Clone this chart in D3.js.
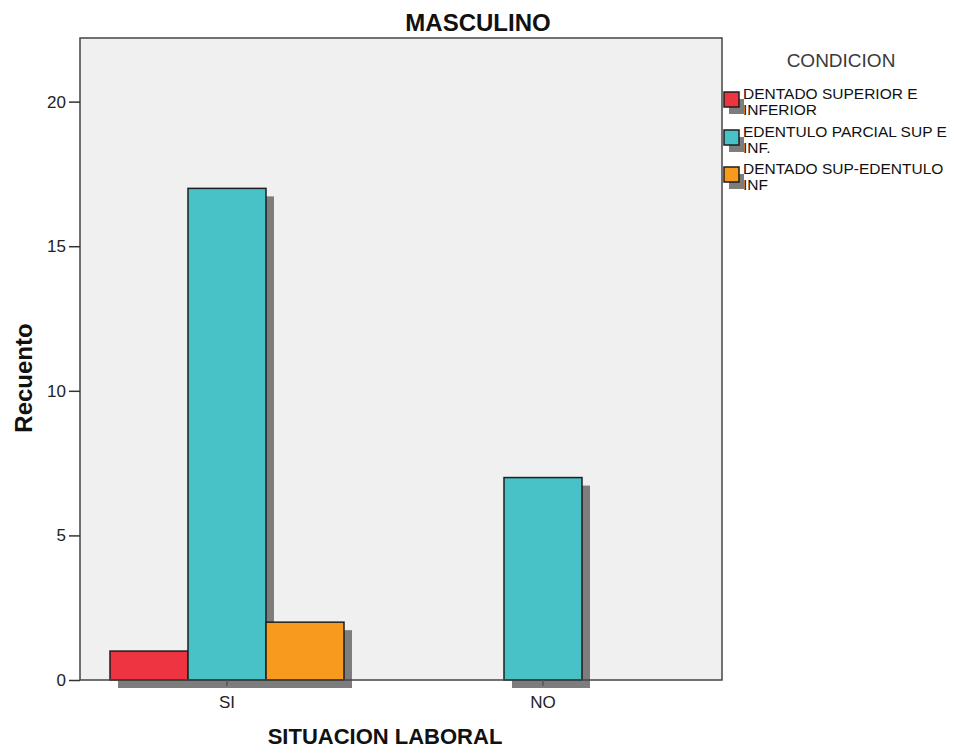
<!DOCTYPE html>
<html>
<head>
<meta charset="utf-8">
<script src="https://cdn.jsdelivr.net/npm/d3@7"></script>
<style>
  html, body { margin: 0; padding: 0; background: #fff; }
  svg { display: block; font-family: "Liberation Sans", Arial, sans-serif; }
</style>
</head>
<body>
<svg id="chart" width="956" height="753"></svg>
<script>
const categories = ["SI", "NO"];
const seriesNames = ["DENTADO SUPERIOR E INFERIOR", "EDENTULO PARCIAL SUP E INF.", "DENTADO SUP-EDENTULO INF"];
const legendLines = [["DENTADO SUPERIOR E", "INFERIOR"], ["EDENTULO PARCIAL SUP E", "INF."], ["DENTADO SUP-EDENTULO", "INF"]];
const valuesDentado = [1, 0];
const valuesEdentuloParcial = [17, 7];
const valuesDentadoSupEdentuloInf = [2, 0];
const yTicks = [0, 5, 10, 15, 20];
const colors = ["#ee3440", "#48c2c6", "#f89a1e"];

const seriesValues = [valuesDentado, valuesEdentuloParcial, valuesDentadoSupEdentuloInf];
const data = [];
categories.forEach((c, ci) => {
  seriesNames.forEach((s, si) => {
    const v = seriesValues[si][ci];
    if (v > 0) data.push({cat: c, series: s, si: si, value: v});
  });
});

const svg = d3.select("#chart");
const frame = {left: 80, right: 722, top: 38, bottom: 680};

const y = d3.scaleLinear().domain([0, 22.2]).range([frame.bottom, frame.top]);
const x0 = d3.scaleBand().domain(categories).range([69, 701]).paddingInner(0);
const bw = x0.bandwidth();
const x1 = d3.scaleBand().domain(seriesNames).range([0, bw]).paddingInner(0).paddingOuter(0.5256);

// plot background
svg.append("rect")
  .attr("x", frame.left).attr("y", frame.top)
  .attr("width", frame.right - frame.left).attr("height", frame.bottom - frame.top)
  .attr("fill", "#f0f0f0");

// shadows
svg.append("g").selectAll("rect").data(data).join("rect")
  .attr("x", d => x0(d.cat) + x1(d.series) + 8)
  .attr("y", d => y(d.value) + 8)
  .attr("width", x1.bandwidth())
  .attr("height", d => y(0) - y(d.value))
  .attr("fill", "#7d7d7d");

// bars
svg.append("g").selectAll("rect").data(data).join("rect")
  .attr("x", d => x0(d.cat) + x1(d.series))
  .attr("y", d => y(d.value))
  .attr("width", x1.bandwidth())
  .attr("height", d => y(0) - y(d.value))
  .attr("fill", d => colors[d.si])
  .attr("stroke", "#1e1e1e")
  .attr("stroke-width", 1.5);

// frame
svg.append("rect")
  .attr("x", frame.left).attr("y", frame.top)
  .attr("width", frame.right - frame.left).attr("height", frame.bottom - frame.top)
  .attr("fill", "none").attr("stroke", "#444").attr("stroke-width", 1.5);

// y axis
const yAxis = svg.append("g")
  .attr("transform", `translate(${frame.left},0)`)
  .call(d3.axisLeft(y).tickValues(yTicks).tickSize(11).tickPadding(3).tickFormat(d3.format("d")));
yAxis.select(".domain").remove();
yAxis.selectAll("line").attr("stroke", "#333").attr("stroke-width", 1.5);
yAxis.selectAll("text").attr("font-size", "17px").attr("fill", "#222")
  .attr("font-family", "Liberation Sans, Arial, sans-serif");

// x axis
const xCenter = d3.scaleOrdinal().domain(categories).range(categories.map(c => x0(c) + bw / 2));
const xAxis = svg.append("g")
  .attr("transform", `translate(0,${frame.bottom})`)
  .call(d3.axisBottom(x0).tickSize(6).tickPadding(10));
xAxis.select(".domain").remove();
xAxis.selectAll("line").attr("stroke", "#555").attr("stroke-width", 1.5);
xAxis.selectAll("text").attr("font-size", "17px").attr("fill", "#222")
  .attr("font-family", "Liberation Sans, Arial, sans-serif");

// title
svg.append("text").attr("x", 478).attr("y", 31).attr("text-anchor", "middle")
  .attr("font-size", "24px").attr("font-weight", "bold").attr("fill", "#111").text("MASCULINO");

// axis titles
svg.append("text").attr("x", 385).attr("y", 744).attr("text-anchor", "middle")
  .attr("font-size", "22px").attr("font-weight", "bold").attr("fill", "#111").text("SITUACION LABORAL");
svg.append("text").attr("transform", "translate(32,378) rotate(-90)").attr("text-anchor", "middle")
  .attr("font-size", "24px").attr("font-weight", "bold").attr("fill", "#111").text("Recuento");

// legend
svg.append("text").attr("x", 841).attr("y", 67).attr("text-anchor", "middle")
  .attr("font-size", "19px").attr("fill", "#3a3a3a").text("CONDICION");

const legendY = [92, 130, 167];
const lg = svg.append("g").selectAll("g").data(seriesNames).join("g")
  .attr("transform", (d, i) => `translate(724,${legendY[i]})`);
lg.append("rect").attr("x", 5).attr("y", 7).attr("width", 15).attr("height", 15).attr("fill", "#7d7d7d");
lg.append("rect").attr("x", 0).attr("y", 0).attr("width", 15).attr("height", 15)
  .attr("fill", (d, i) => colors[i]).attr("stroke", "#1e1e1e").attr("stroke-width", 1.5);
lg.each(function(d, i) {
  const g = d3.select(this);
  legendLines[i].forEach((line, li) => {
    g.append("text").attr("x", 19).attr("y", 7 + li * 16)
      .attr("font-size", "15.5px").attr("fill", "#111").text(line);
  });
});
</script>
</body>
</html>
